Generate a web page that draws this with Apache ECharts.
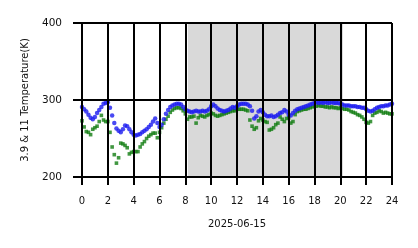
<!DOCTYPE html>
<html><head><meta charset="utf-8">
<script src="https://cdn.jsdelivr.net/npm/echarts@6/dist/echarts.min.js"></script>
<style>html,body{margin:0;padding:0;background:#fff}#c{width:418px;height:248px}</style>
</head><body><div id="c"></div>
<script>
const dateLabel = '2025-06-15';
const yAxisTitle = '3.9 & 11 Temperature(K)';
const stepMinutes = 10;
const nightStart = 8.2, nightEnd = 20.2;
// 3.9 um channel (blue), 10-min samples from 00:00 to 24:00
const blue39 = [
 291,288,285,281,277,275, 278,283,287,291,295,296, 297,290,280,270,263,260,
 258,262,267,266,262,258, 255,254,255,256,258,260, 262,265,268,272,276,270,
 265,268,275,282,287,291, 293,294,295,295,294,291, 288,286,285,284,285,286,
 285,285,286,285,286,288, 292,294,292,289,287,286, 285,286,287,289,291,290,
 292,294,295,295,295,294, 292,286,276,279,285,287, 284,281,279,279,280,278,
 279,281,283,284,287,285, 281,280,283,286,288,289, 290,291,292,293,294,295,
 296,297,296,297,296,297, 296,296,297,296,296,296, 295,294,293,293,293,292,
 292,292,291,291,290,290, 288,286,285,286,288,290, 291,292,292,293,293,294,
 295];
// 11 um channel (green)
const green11 = [
 273,265,259,258,255,262, 264,266,272,280,274,272, 272,258,239,229,218,225,
 244,243,241,238,230,232, 233,233,233,239,243,246, 250,253,255,257,257,251,
 258,264,270,275,279,284, 287,289,290,290,289,286, 282,275,278,278,279,270,
 277,280,279,278,280,281, 283,282,280,279,280,281, 282,283,284,285,286,286,
 288,288,288,288,287,286, 274,266,262,264,273,276, 274,272,271,261,262,264,
 268,270,278,275,272,276, 277,270,272,281,285,286, 287,288,288,289,290,291,
 292,292,293,292,292,291, 291,290,291,290,290,289, 290,289,288,288,287,285,
 284,283,281,280,278,275, 271,270,272,280,283,284, 286,285,283,284,283,282,
 282];
const hourOf = i => i * stepMinutes / 60;
const pts = arr => arr.map((v, i) => [hourOf(i), v]);

const font = 'DejaVu Sans';
const black = '#000';
const chart = echarts.init(document.getElementById('c'), null, {renderer: 'canvas'});
chart.setOption({
  animation: false,
  backgroundColor: '#fff',
  grid: {left: 82, right: 26, top: 23, bottom: 71},
  xAxis: {
    type: 'value', min: 0, max: 24, interval: 2, z: 10,
    name: dateLabel, nameLocation: 'middle', nameGap: 42,
    nameTextStyle: {fontFamily: font, fontSize: 10, color: '#111'},
    axisLine: {show: true, lineStyle: {color: black, width: 2}},
    axisTick: {show: true, length: 8, lineStyle: {color: black, width: 2}},
    axisLabel: {fontFamily: font, fontSize: 10, color: '#111', margin: 19},
    splitLine: {show: true, lineStyle: {color: black, width: 2}}
  },
  yAxis: {
    type: 'value', min: 200, max: 400, interval: 100, z: 10,
    name: yAxisTitle, nameLocation: 'middle', nameGap: 52,
    nameTextStyle: {fontFamily: font, fontSize: 10, color: '#111'},
    axisLine: {show: true, lineStyle: {color: black, width: 2}},
    axisTick: {show: true, length: 9, lineStyle: {color: black, width: 2}},
    axisLabel: {fontFamily: font, fontSize: 10.5, color: '#111', margin: 20},
    splitLine: {show: true, lineStyle: {color: black, width: 2}}
  },
  series: [
    {
      type: 'scatter', data: [], z: 1, silent: true,
      markArea: {silent: true, itemStyle: {color: '#d9d9d9'},
        data: [[{xAxis: nightStart}, {xAxis: nightEnd}]]}
    },
    {
      name: '11', type: 'scatter', data: pts(green11),
      symbol: 'rect', symbolSize: 3.6,
      itemStyle: {color: '#117d11'}, silent: true
    },
    {
      name: '3.9', type: 'scatter', data: pts(blue39),
      symbol: 'circle', symbolSize: 4.5,
      itemStyle: {color: '#1c1cf0'}, silent: true
    }
  ]
});
</script></body></html>
